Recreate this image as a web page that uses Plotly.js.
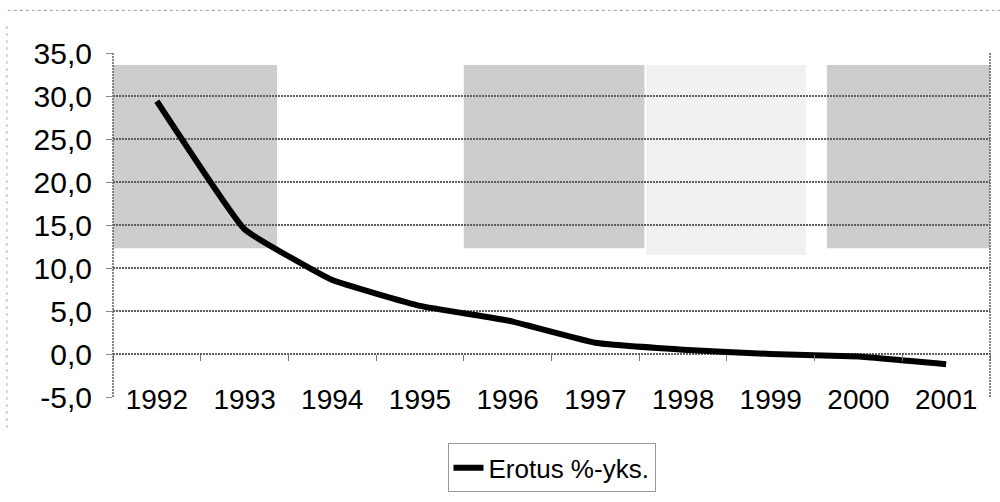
<!DOCTYPE html>
<html>
<head>
<meta charset="utf-8">
<script src="https://cdn.plot.ly/plotly-3.0.1.min.js"></script>
<style>html,body{margin:0;padding:0;background:#fff;}#chart{width:1000px;height:502px;}</style>
</head>
<body>
<div id="chart"></div>
<script>
var years = ['1992','1993','1994','1995','1996','1997','1998','1999','2000','2001'];
var erotus = [29.4, 14.5, 8.6, 5.6, 3.9, 1.3, 0.5, 0.0, -0.3, -1.2];
var seriesName = 'Erotus %-yks.';
var yTickVals = [-5, 0, 5, 10, 15, 20, 25, 30, 35];
var yTickText = ['-5,0', '0,0', '5,0', '10,0', '15,0', '20,0', '25,0', '30,0', '35,0'];

var font = 'Liberation Sans, Arial, sans-serif';

var traces = [
  {
    x: years, y: erotus, type: 'scatter', mode: 'lines', name: seriesName,
    line: {color: '#000', width: 6, shape: 'spline', smoothing: 0.3},
    xaxis: 'x', yaxis: 'y'
  },
  {
    x: years, y: erotus, type: 'scatter', mode: 'lines', showlegend: false,
    hoverinfo: 'skip', opacity: 0, line: {width: 0},
    xaxis: 'x2', yaxis: 'y'
  }
];

var grey = '#5f5f5f';
var layout = {
  width: 1000, height: 502,
  margin: {l: 113, r: 10, t: 53, b: 102},
  paper_bgcolor: '#fff', plot_bgcolor: 'rgba(0,0,0,0)',
  font: {family: font, size: 28, color: '#000'},
  showlegend: true,
  legend: {
    orientation: 'h', x: 0.5, xanchor: 'center', y: -0.135, yanchor: 'top',
    bordercolor: '#999', borderwidth: 1, bgcolor: '#fff',
    font: {family: font, size: 26, color: '#000'}
  },
  xaxis: {
    type: 'category', range: [-0.5, 9.5], showgrid: false, zeroline: false,
    showline: false, ticks: '', ticklabelstandoff: -17,
    tickfont: {family: font, size: 28, color: '#000'}
  },
  xaxis2: {
    type: 'category', matches: 'x', overlaying: 'x', anchor: 'free', position: 0.125,
    showgrid: false, zeroline: false, showline: false, showticklabels: false,
    ticks: 'outside', ticklen: 6, tickwidth: 1, tickcolor: '#777', tickson: 'boundaries'
  },
  yaxis: {
    range: [-5, 35], tickmode: 'array', tickvals: yTickVals, ticktext: yTickText,
    showgrid: true, gridcolor: grey, gridwidth: 1.5, griddash: '2px,1px',
    zeroline: false, showline: false, ticks: 'outside', ticklen: 6, tickcolor: '#888',
    ticklabelstandoff: 8,
    tickfont: {family: font, size: 30, color: '#000'}
  },
  shapes: [
    {type: 'rect', xref: 'x', yref: 'y', x0: -0.5, x1: 1.37, y0: 12.3, y1: 33.6,
     fillcolor: '#cdcdcd', line: {width: 0}, layer: 'below'},
    {type: 'rect', xref: 'x', yref: 'y', x0: 3.5, x1: 5.56, y0: 12.3, y1: 33.6,
     fillcolor: '#cdcdcd', line: {width: 0}, layer: 'below'},
    {type: 'rect', xref: 'x', yref: 'y', x0: 7.64, x1: 9.5, y0: 12.3, y1: 33.6,
     fillcolor: '#cdcdcd', line: {width: 0}, layer: 'below'},
    {type: 'rect', xref: 'x', yref: 'y', x0: 5.58, x1: 7.4, y0: 11.5, y1: 33.6,
     fillcolor: '#f1f1f1', line: {width: 0}, layer: 'below'},
    {type: 'line', xref: 'paper', yref: 'paper', x0: 0, x1: 0, y0: 0, y1: 1,
     line: {color: grey, width: 1.5, dash: '2px,1px'}},
    {type: 'line', xref: 'paper', yref: 'paper', x0: 1, x1: 1, y0: 0, y1: 1,
     line: {color: grey, width: 1.5, dash: '2px,1px'}},
    {type: 'line', xref: 'paper', yref: 'paper', x0: -0.12, x1: 1.02, y0: 1.124, y1: 1.124,
     line: {color: '#999', width: 1, dash: '3px,3px'}},
    {type: 'line', xref: 'paper', yref: 'paper', x0: -0.121, x1: -0.121, y0: -0.09, y1: 1.08,
     line: {color: '#aaa', width: 1, dash: '3px,4px'}}
  ]
};

Plotly.newPlot('chart', traces, layout, {displayModeBar: false, staticPlot: true});
</script>
</body>
</html>
